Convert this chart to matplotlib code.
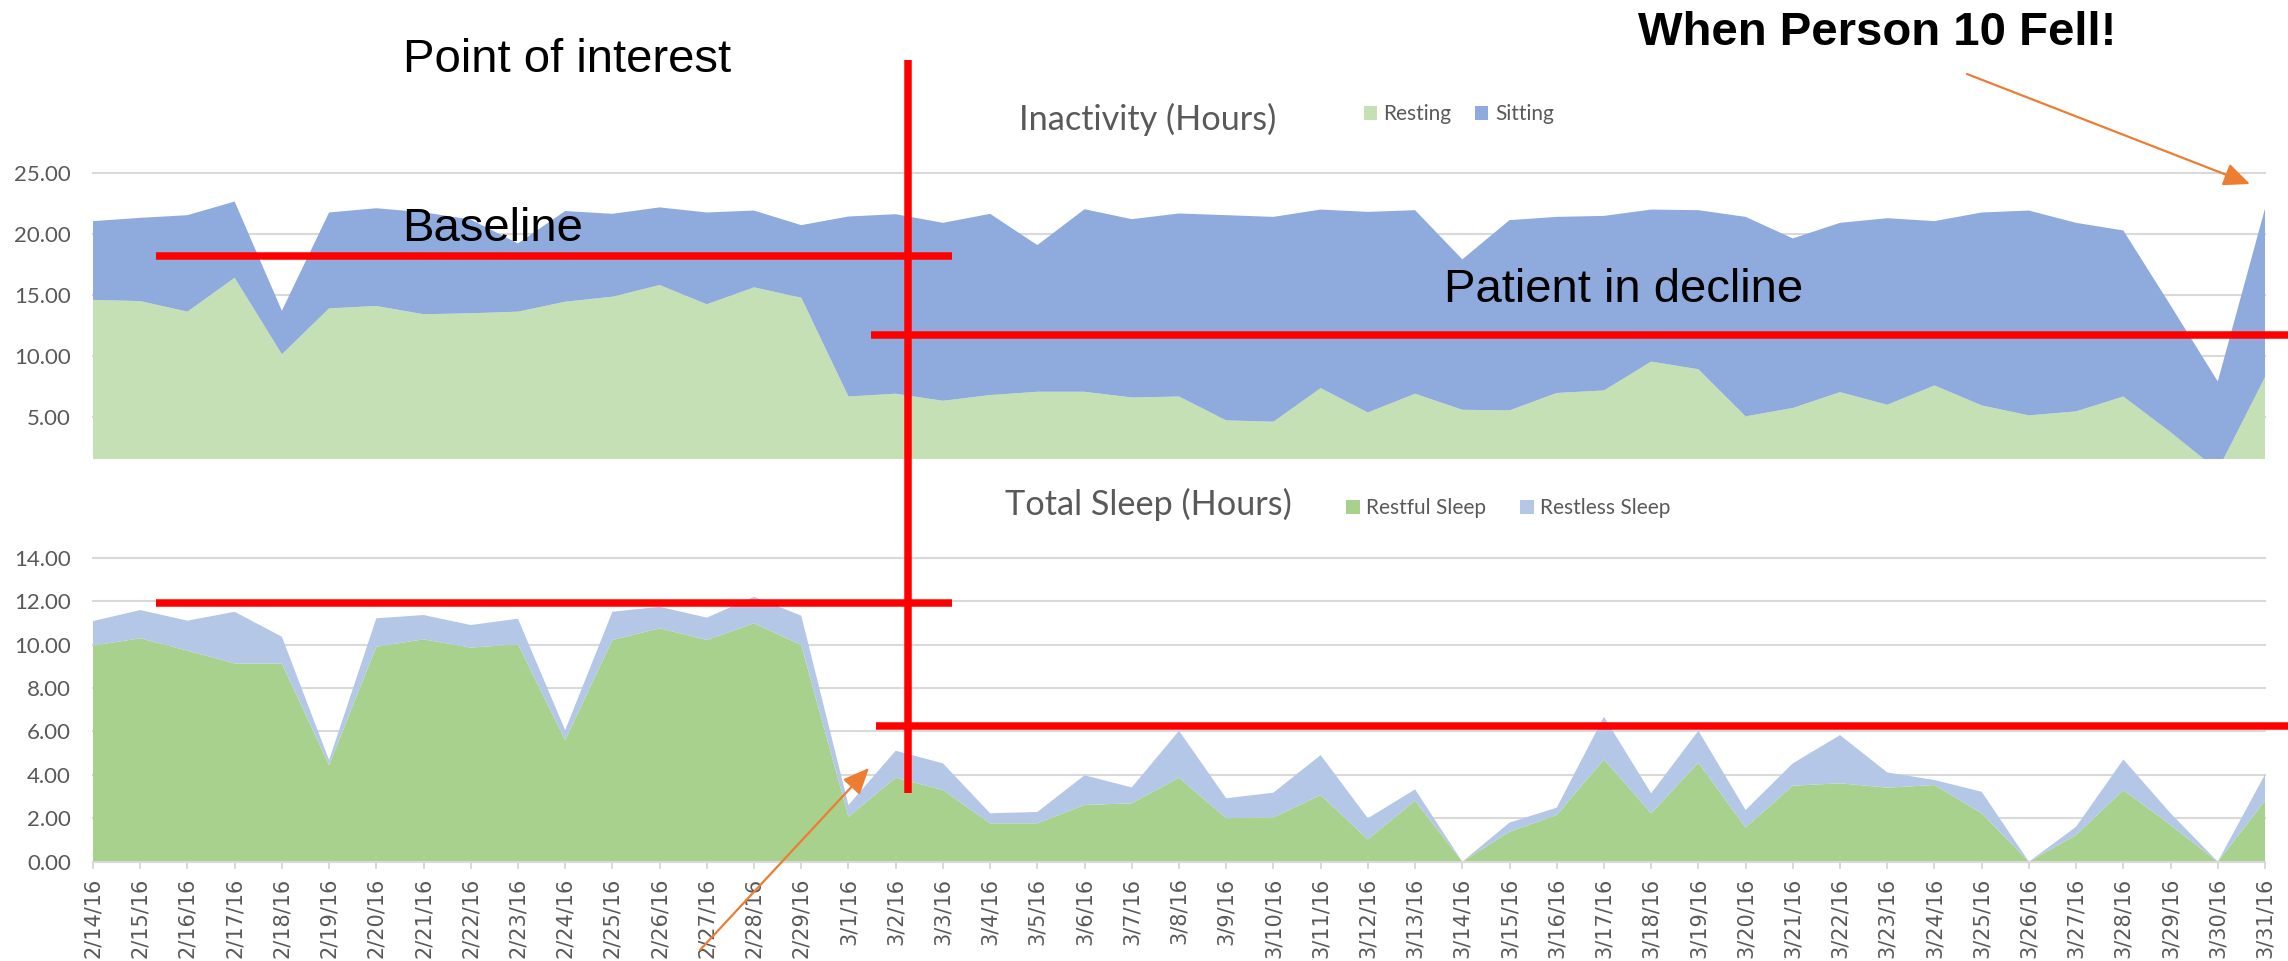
import matplotlib
matplotlib.use("Agg")
import matplotlib.pyplot as plt
import numpy as np
from matplotlib.patches import Rectangle, FancyArrowPatch
from matplotlib.lines import Line2D
from matplotlib.ticker import StrMethodFormatter

# ---------------- data ----------------
dates = ['2/14/16', '2/15/16', '2/16/16', '2/17/16', '2/18/16', '2/19/16', '2/20/16',
         '2/21/16', '2/22/16', '2/23/16', '2/24/16', '2/25/16', '2/26/16', '2/27/16',
         '2/28/16', '2/29/16', '3/1/16', '3/2/16', '3/3/16', '3/4/16', '3/5/16',
         '3/6/16', '3/7/16', '3/8/16', '3/9/16', '3/10/16', '3/11/16', '3/12/16',
         '3/13/16', '3/14/16', '3/15/16', '3/16/16', '3/17/16', '3/18/16', '3/19/16',
         '3/20/16', '3/21/16', '3/22/16', '3/23/16', '3/24/16', '3/25/16', '3/26/16',
         '3/27/16', '3/28/16', '3/29/16', '3/30/16', '3/31/16']

resting = [14.60, 14.50, 13.63, 16.42, 10.13, 13.90, 14.10, 13.42, 13.50, 13.63,
           14.45, 14.86, 15.82, 14.24, 15.63, 14.78, 6.66, 6.89, 6.31, 6.78,
           7.05, 7.05, 6.58, 6.66, 4.70, 4.59, 7.35, 5.35, 6.89, 5.57,
           5.52, 6.95, 7.16, 9.53, 8.90, 5.03, 5.72, 7.02, 5.98, 7.57,
           5.93, 5.11, 5.44, 6.66, 3.73, 0.60, 8.25]

sitting = [6.47, 6.84, 7.93, 6.26, 3.58, 7.88, 8.03, 8.38, 7.70, 5.61,
           7.45, 6.81, 6.38, 7.54, 6.31, 5.96, 14.79, 14.75, 14.62, 14.89,
           12.05, 15.00, 14.65, 15.04, 16.86, 16.83, 14.67, 16.48, 15.08, 12.36,
           15.63, 14.47, 14.34, 12.49, 13.07, 16.39, 13.93, 13.91, 15.33, 13.50,
           15.85, 16.83, 15.49, 13.64, 10.42, 7.30, 13.85]

restful = [9.95, 10.29, 9.72, 9.13, 9.13, 4.45, 9.90, 10.24, 9.86, 10.01,
           5.60, 10.21, 10.75, 10.21, 10.98, 9.98, 2.07, 3.87, 3.30, 1.77,
           1.77, 2.61, 2.69, 3.87, 2.00, 2.04, 3.07, 1.03, 2.81, 0.00,
           1.38, 2.15, 4.71, 2.23, 4.56, 1.57, 3.50, 3.61, 3.41, 3.53,
           2.23, 0.00, 1.23, 3.30, 1.69, 0.00, 2.81]

restless = [1.13, 1.30, 1.38, 2.38, 1.23, 0.23, 1.31, 1.12, 1.04, 1.18,
            0.46, 1.30, 0.99, 1.03, 1.22, 1.35, 0.54, 1.24, 1.23, 0.46,
            0.52, 1.37, 0.73, 2.16, 0.92, 1.14, 1.84, 0.97, 0.52, 0.00,
            0.42, 0.34, 1.97, 0.92, 1.47, 0.81, 1.03, 2.22, 0.70, 0.23,
            0.99, 0.00, 0.38, 1.41, 0.54, 0.00, 1.21]

top_ticks = [5, 10, 15, 20, 25]
bottom_ticks = [0, 2, 4, 6, 8, 10, 12, 14]

# ---------------- style ----------------
plt.rcParams['font.family'] = ['Lato', 'DejaVu Sans']
GRAY_TXT = '#595959'
GRID = '#D9D9D9'
C_REST = '#C5E0B4'
C_SIT = '#8FAADC'
C_RESTFUL = '#A9D18E'
C_RESTLESS = '#B4C7E7'
RED = '#FF0000'
ORANGE = '#ED7D31'

W, H = 2288, 961
def fx(px):
    return px / W
def fy(py):
    return 1 - py / H

fig = plt.figure(figsize=(W / 100, H / 100), dpi=100)
fig.patch.set_facecolor('white')

x = np.arange(len(dates))

# ---------------- top chart ----------------
ax1 = fig.add_axes([fx(93), fy(458.7), (2265 - 93) / W, (458.7 - 173.3) / H])
ax1.stackplot(x, resting, sitting, colors=[C_REST, C_SIT], zorder=2)
ax1.set_xlim(0, len(dates) - 1)
ax1.set_ylim(1.55, 25)
ax1.set_yticks(top_ticks)
ax1.yaxis.set_major_formatter(StrMethodFormatter('{x:.2f}'))
ax1.set_xticks([])
ax1.grid(axis='y', color=GRID, lw=1.5, zorder=0)
ax1.set_axisbelow(True)
for gl in ax1.yaxis.get_gridlines():
    gl.set_clip_on(False)
for s in ax1.spines.values():
    s.set_visible(False)
ax1.tick_params(axis='y', length=0, pad=16, labelsize=16, labelcolor=GRAY_TXT)

# ---------------- bottom chart ----------------
ax2 = fig.add_axes([fx(93), fy(861.7), (2265 - 93) / W, (861.7 - 557.7) / H])
ax2.stackplot(x, restful, restless, colors=[C_RESTFUL, C_RESTLESS], zorder=2)
ax2.set_xlim(0, len(dates) - 1)
ax2.set_ylim(0, 14)
ax2.set_yticks(bottom_ticks)
ax2.yaxis.set_major_formatter(StrMethodFormatter('{x:.2f}'))
ax2.set_xticks(x)
ax2.set_xticklabels(dates, rotation=90, fontfamily='DejaVu Sans', fontsize=15,
                    color=GRAY_TXT)
ax2.grid(axis='y', color=GRID, lw=1.5, zorder=0)
ax2.set_axisbelow(True)
for gl in ax2.yaxis.get_gridlines():
    gl.set_clip_on(False)
for k, s in ax2.spines.items():
    s.set_visible(k == 'bottom')
ax2.spines['bottom'].set_color(GRID)
ax2.spines['bottom'].set_linewidth(1.5)
ax2.spines['bottom'].set_zorder(3)
ax2.tick_params(axis='y', length=0, pad=16, labelsize=16, labelcolor=GRAY_TXT)
ax2.tick_params(axis='x', length=4.8, width=1.4, color=GRID, pad=6.5)

# ---------------- titles and legends ----------------
fig.text(fx(1019), fy(130), 'Inactivity (Hours)', fontsize=24.7, color=GRAY_TXT,
         va='baseline', ha='left')
fig.text(fx(1005), fy(515), 'Total Sleep (Hours)', fontsize=24.7, color=GRAY_TXT,
         va='baseline', ha='left')

def legend_item(x0, ytop, size, color, label, text_x, baseline):
    fig.add_artist(Rectangle((fx(x0), fy(ytop + size)), size / W, size / H,
                             transform=fig.transFigure, facecolor=color,
                             edgecolor='none'))
    fig.text(fx(text_x), fy(baseline), label, fontsize=15, color=GRAY_TXT,
             va='baseline', ha='left')

legend_item(1364, 106.5, 13, C_REST, 'Resting', 1383, 120)
legend_item(1475, 106.5, 13, C_SIT, 'Sitting', 1495, 120)
legend_item(1346, 499.5, 14, C_RESTFUL, 'Restful Sleep', 1366, 513.5)
legend_item(1520, 499.5, 14, C_RESTLESS, 'Restless Sleep', 1540, 513.5)

# ---------------- annotations ----------------
ann_font = dict(fontsize=34, family='Liberation Sans', color='black',
                va='baseline', ha='left')
fig.text(fx(403), fy(72), 'Point of interest', **ann_font)
fig.text(fx(402), fy(241), 'Baseline', **ann_font)
fig.text(fx(1444), fy(302), 'Patient in decline', **ann_font)
fig.text(fx(1638), fy(45), 'When Person 10 Fell!', fontweight='bold', **ann_font)

red_segments = [
    ((908, 60), (908, 793)),
    ((156, 256), (952, 256)),
    ((871, 334.7), (2288, 334.7)),
    ((156, 602.7), (952, 602.7)),
    ((876, 726), (2288, 726)),
]
for (xa, ya), (xb, yb) in red_segments:
    fig.add_artist(Line2D([fx(xa), fx(xb)], [fy(ya), fy(yb)], color=RED, lw=5.4,
                          solid_capstyle='butt', transform=fig.transFigure, zorder=5))

for (xa, ya), (xb, yb) in [((1967, 74), (2250, 184)), ((700, 950), (869, 768))]:
    fig.add_artist(FancyArrowPatch((fx(xa), fy(ya)), (fx(xb), fy(yb)),
                                   transform=fig.transFigure,
                                   arrowstyle='-|>,head_length=0.8,head_width=0.35',
                                   mutation_scale=20, color=ORANGE, lw=1.6,
                                   shrinkA=0, shrinkB=0, zorder=6))

fig.savefig('out.png', dpi=100, facecolor='white')
